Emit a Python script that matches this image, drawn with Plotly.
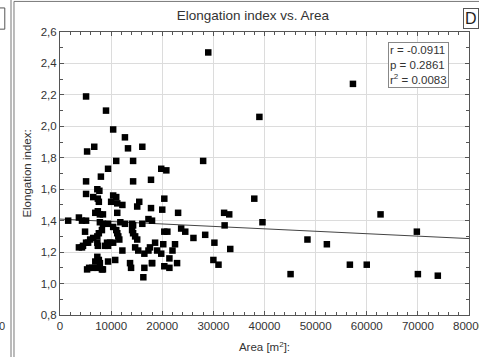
import plotly.graph_objects as go

area = [5100, 9000, 10400, 12700, 13300, 5300, 6700, 16100, 11000, 9400, 8000, 5100, 14300, 14300,
        17800, 19800, 20800, 29000, 39000, 28000, 57300, 62700, 69800, 52200, 56700, 60000, 70000,
        73900, 48400, 38000, 39600, 45100, 32100, 33100, 32200, 33300, 30200, 30000, 31000, 28400,
        26100, 23700, 24500, 23100, 20400, 20000, 18000, 20400, 21000, 18600, 20200, 22500, 17600,
        19000, 19800, 22000, 18000, 20400, 21400, 21400, 22900,
        7300, 7700, 5100, 6500, 7400, 7600, 10400, 11000, 10000, 11200, 12200, 11200, 15500, 15100,
        7400, 6900, 7800, 8400, 17800, 1600, 3700, 4300, 5100, 4900, 7800, 8400, 9400, 11800, 12700,
        14100, 14300, 16100, 17300, 10400, 11000, 11200, 11400, 11600, 8200, 7600, 7300, 6500, 5900,
        5500, 5100, 4500, 3700, 4300, 14100, 14300, 14700, 15100, 9800, 9200, 8800, 9400, 10400,
        7300, 7400, 12200, 14700, 15300, 16500, 17300, 7300, 7600, 6900, 7800, 7400, 8200, 8400,
        5700, 6300, 5300, 9400, 10800, 13700, 13900, 16500, 18000, 16300]
elong = [2.19, 2.10, 1.98, 1.93, 1.86, 1.84, 1.87, 1.87, 1.78, 1.73, 1.68, 1.65, 1.78, 1.65,
         1.66, 1.73, 1.72, 2.47, 2.06, 1.78, 2.27, 1.44, 1.33, 1.25, 1.12, 1.12, 1.06,
         1.05, 1.28, 1.54, 1.39, 1.06, 1.45, 1.44, 1.37, 1.22, 1.26, 1.15, 1.12, 1.31,
         1.29, 1.35, 1.33, 1.45, 1.54, 1.47, 1.40, 1.33, 1.33, 1.26, 1.25, 1.25, 1.23,
         1.21, 1.19, 1.21, 1.13, 1.11, 1.16, 1.10, 1.13,
         1.60, 1.59, 1.57, 1.55, 1.54, 1.52, 1.56, 1.55, 1.52, 1.51, 1.50, 1.45, 1.52, 1.49,
         1.46, 1.45, 1.44, 1.44, 1.48, 1.40, 1.42, 1.40, 1.40, 1.33, 1.39, 1.38, 1.38, 1.39, 1.38,
         1.38, 1.37, 1.38, 1.41, 1.36, 1.34, 1.32, 1.30, 1.28, 1.34, 1.32, 1.30, 1.29, 1.28,
         1.26, 1.26, 1.24, 1.23, 1.23, 1.34, 1.32, 1.30, 1.28, 1.26, 1.26, 1.24, 1.24, 1.26,
         1.26, 1.24, 1.21, 1.23, 1.21, 1.19, 1.21, 1.17, 1.15, 1.14, 1.13, 1.10, 1.09, 1.09,
         1.10, 1.10, 1.09, 1.14, 1.15, 1.13, 1.10, 1.10, 1.13, 1.04]

fit_intercept = 1.41
fit_slope = -1.55e-6
fit_x = [0, 80000]
fit_y = [fit_intercept + fit_slope * v for v in fit_x]

x_tick_vals = [0, 10000, 20000, 30000, 40000, 50000, 60000, 70000, 80000]
x_tick_labels = ["0", "10000", "20000", "30000", "40000", "50000", "60000", "70000", "80000"]
y_tick_vals = [0.8, 1.0, 1.2, 1.4, 1.6, 1.8, 2.0, 2.2, 2.4, 2.6]
y_tick_labels = ["0,8", "1,0", "1,2", "1,4", "1,6", "1,8", "2,0", "2,2", "2,4", "2,6"]

stats_text = "r = -0.0911<br>p = 0.2861<br>r<sup>2</sup> = 0.0083"

FONT = "Liberation Sans, Arial, sans-serif"
TXT = "#333333"

fig = go.Figure()
fig.add_trace(go.Scatter(x=fit_x, y=fit_y, mode="lines",
                         line=dict(color="#444444", width=1), showlegend=False, hoverinfo="skip"))
fig.add_trace(go.Scatter(x=area, y=elong, mode="markers",
                         marker=dict(symbol="square", size=6.5, color="black"),
                         showlegend=False))

axis_common = dict(showline=True, linecolor="#555555", linewidth=1, mirror="allticks",
                   ticks="inside", ticklen=4, tickcolor="#555555", automargin=False,
                   ticklabeloverflow="allow",
                   showgrid=True, gridcolor="#dcdcdc", gridwidth=1, zeroline=False,
                   tickfont=dict(family=FONT, size=11.5, color=TXT))

fig.update_xaxes(range=[0, 80000], tickmode="array", tickvals=x_tick_vals, ticktext=x_tick_labels,
                 minor=dict(ticks="inside", ticklen=3, tickcolor="#555555", tickmode="linear",
                            tick0=0, dtick=2000, showgrid=False),
                 title=dict(text="Area [m<sup>2</sup>]:", font=dict(family=FONT, size=11.5, color=TXT),
                            standoff=12),
                 **axis_common)
fig.update_yaxes(range=[0.8, 2.6], tickmode="array", tickvals=y_tick_vals, ticktext=y_tick_labels,
                 minor=dict(ticks="inside", ticklen=3, tickcolor="#555555", tickmode="linear",
                            tick0=0.8, dtick=0.1, showgrid=False),
                 title=dict(text="Elongation index:", font=dict(family=FONT, size=11.5, color=TXT),
                            standoff=6),
                 **axis_common)

fig.update_layout(
    width=479, height=357,
    margin=dict(l=60, r=10, t=32, b=42, autoexpand=False),
    paper_bgcolor="white", plot_bgcolor="white",
    title=dict(text="Elongation index vs. Area", x=0.528, xanchor="center", y=0.958, yanchor="middle",
               font=dict(family=FONT, size=13.5, color=TXT)),
    annotations=[
        dict(text=stats_text, xref="paper", yref="paper", x=0.952, y=0.965,
             xanchor="right", yanchor="top", align="left", showarrow=False,
             font=dict(family=FONT, size=11.5, color=TXT),
             bordercolor="#888888", borderwidth=1, borderpad=1, bgcolor="white"),
        dict(text="D", xref="paper", yref="paper", x=0.985, y=1.048,
             xanchor="left", yanchor="middle", showarrow=False,
             font=dict(family=FONT, size=16, color="#222222"),
             bordercolor="#555555", borderwidth=1, borderpad=1, bgcolor="white"),
        dict(text="0", xref="paper", yref="paper", x=-0.13, y=-0.04,
             xanchor="right", yanchor="middle", showarrow=False,
             font=dict(family=FONT, size=11, color=TXT)),
    ],
    shapes=[
        dict(type="line", xref="paper", yref="paper", x0=-0.1198, x1=-0.1198, y0=-0.2, y1=1.2,
             line=dict(color="#777777", width=1)),
        dict(type="line", xref="paper", yref="paper", x0=-0.1125, x1=-0.1125, y0=-0.2, y1=1.108,
             line=dict(color="#777777", width=1)),
        dict(type="line", xref="paper", yref="paper", x0=-0.1125, x1=1.2, y0=1.108, y1=1.108,
             line=dict(color="#777777", width=1)),
        dict(type="rect", xref="paper", yref="paper", x0=-0.2, x1=-0.135, y0=1.01, y1=1.085,
             line=dict(color="#555555", width=1)),
    ],
)

fig.write_html("out.html", config={"displayModeBar": False},
               post_script="document.body.style.margin='0';document.body.style.overflow='hidden';")
